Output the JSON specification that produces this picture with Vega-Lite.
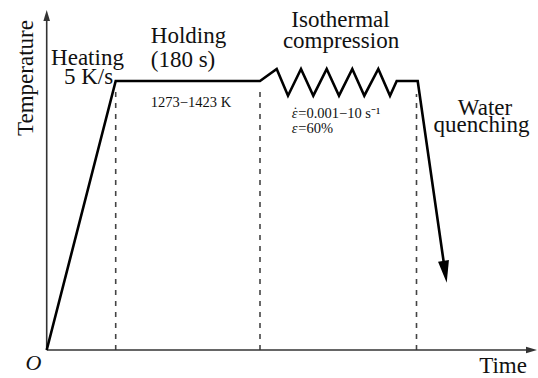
{
  "$schema": "https://vega.github.io/schema/vega-lite/v6.json",
  "width": 538,
  "height": 378,
  "padding": 0,
  "autosize": {"type": "fit", "contains": "padding"},
  "background": "white",
  "config": {"view": {"stroke": null}},
  "datasets": {
    "curve": [
      {"t": 0, "T": 0},
      {"t": 69, "T": 269},
      {"t": 213.3, "T": 269},
      {"t": 230, "T": 281},
      {"t": 241.3, "T": 254.3},
      {"t": 254.3, "T": 281},
      {"t": 266.6, "T": 254.3},
      {"t": 280, "T": 281},
      {"t": 292.3, "T": 254.3},
      {"t": 305.6, "T": 281},
      {"t": 317.6, "T": 254.3},
      {"t": 331.6, "T": 281},
      {"t": 343.3, "T": 254.3},
      {"t": 350, "T": 269},
      {"t": 371, "T": 269},
      {"t": 398.4, "T": 78.2}
    ],
    "axes": [
      {"t": 0, "T": 0, "t2": 484, "T2": 0},
      {"t": 0, "T": 0, "t2": 0, "T2": 334}
    ],
    "stages": [
      {"t": 69, "T": 0, "T2": 258},
      {"t": 213.3, "T": 0, "T2": 262},
      {"t": 369.8, "T": 0, "T2": 256}
    ],
    "quench": [{"t": 398.4, "T": 78.2}],
    "xhead": [{"t": 484.8, "T": 0}],
    "yhead": [{"t": 0, "T": 334.5}],
    "big": [
      {"t": 40.8, "T": 285, "label": "Heating"},
      {"t": 41.8, "T": 266, "label": "5 K/s"},
      {"t": 141.8, "T": 307, "label": "Holding"},
      {"t": 136.3, "T": 283, "label": "(180 s)"},
      {"t": 293.8, "T": 323, "label": "Isothermal"},
      {"t": 294.3, "T": 302, "label": "compression"},
      {"t": 438.3, "T": 235, "label": "Water"},
      {"t": 434.8, "T": 218, "label": "quenching"},
      {"t": 456.3, "T": -23, "label": "Time"}
    ],
    "ylabel": [{"t": -13.7, "T": 272, "label": "Temperature"}],
    "origin": [{"t": -13.2, "T": -20, "label": "O"}],
    "range": [{"t": 144.3, "T": 243, "label": "1273−1423 K"}],
    "symbols": [
      {"t": 245, "T": 232, "label": "ε"},
      {"t": 245, "T": 217, "label": "ε"}
    ],
    "dot": [{"t": 248.8, "T": 233, "label": "˙"}],
    "params": [
      {"t": 251.5, "T": 232, "label": "=0.001−10 s⁻¹"},
      {"t": 251.5, "T": 217, "label": "=60%"}
    ]
  },
  "encoding": {
    "x": {"field": "t", "type": "quantitative", "axis": null, "scale": {"domain": [-46.7, 491.3], "nice": false, "zero": false}},
    "y": {"field": "T", "type": "quantitative", "axis": null, "scale": {"domain": [-28, 350], "nice": false, "zero": false}}
  },
  "layer": [
    {
      "data": {"name": "stages"},
      "mark": {"type": "rule", "stroke": "#444444", "strokeWidth": 1.6, "strokeDash": [5, 6]},
      "encoding": {"y2": {"field": "T2"}}
    },
    {
      "data": {"name": "axes"},
      "mark": {"type": "rule", "stroke": "#333333", "strokeWidth": 1.6},
      "encoding": {"x2": {"field": "t2"}, "y2": {"field": "T2"}}
    },
    {
      "data": {"name": "xhead"},
      "mark": {"type": "point", "filled": true, "color": "#333333", "opacity": 1, "size": 121, "shape": "M-1,-0.6L1,0L-1,0.6Z"}
    },
    {
      "data": {"name": "yhead"},
      "mark": {"type": "point", "filled": true, "color": "#333333", "opacity": 1, "size": 121, "shape": "M-0.6,1L0,-1L0.6,1Z"}
    },
    {
      "data": {"name": "curve"},
      "mark": {"type": "line", "stroke": "#000000", "strokeWidth": 2.6, "strokeJoin": "miter", "strokeCap": "butt"}
    },
    {
      "data": {"name": "quench"},
      "mark": {"type": "point", "filled": true, "color": "#000000", "opacity": 1, "size": 484, "angle": 351.6, "shape": "M-0.5,-1L0.5,-1L0,1Z"}
    },
    {
      "data": {"name": "big"},
      "mark": {"type": "text", "font": "Liberation Serif", "fontSize": 23, "color": "#111111", "align": "center", "baseline": "alphabetic"},
      "encoding": {"text": {"field": "label"}}
    },
    {
      "data": {"name": "ylabel"},
      "mark": {"type": "text", "font": "Liberation Serif", "fontSize": 23, "color": "#111111", "align": "center", "baseline": "alphabetic", "angle": 270},
      "encoding": {"text": {"field": "label"}}
    },
    {
      "data": {"name": "origin"},
      "mark": {"type": "text", "font": "Liberation Serif", "fontSize": 22, "fontStyle": "italic", "color": "#111111", "align": "center", "baseline": "alphabetic"},
      "encoding": {"text": {"field": "label"}}
    },
    {
      "data": {"name": "range"},
      "mark": {"type": "text", "font": "Liberation Serif", "fontSize": 14.5, "color": "#111111", "align": "center", "baseline": "alphabetic"},
      "encoding": {"text": {"field": "label"}}
    },
    {
      "data": {"name": "symbols"},
      "mark": {"type": "text", "font": "Liberation Serif", "fontSize": 14.5, "fontStyle": "italic", "color": "#111111", "align": "left", "baseline": "alphabetic"},
      "encoding": {"text": {"field": "label"}}
    },
    {
      "data": {"name": "dot"},
      "mark": {"type": "text", "font": "Liberation Serif", "fontSize": 14.5, "color": "#111111", "align": "center", "baseline": "alphabetic"},
      "encoding": {"text": {"field": "label"}}
    },
    {
      "data": {"name": "params"},
      "mark": {"type": "text", "font": "Liberation Serif", "fontSize": 14.5, "color": "#111111", "align": "left", "baseline": "alphabetic"},
      "encoding": {"text": {"field": "label"}}
    }
  ]
}
